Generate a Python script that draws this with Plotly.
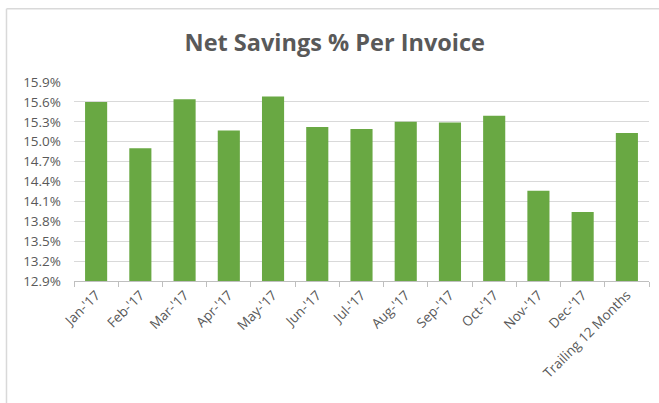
import plotly.graph_objects as go

categories = ["Jan-'17", "Feb-'17", "Mar-'17", "Apr-'17", "May-'17", "Jun-'17",
              "Jul-'17", "Aug-'17", "Sep-'17", "Oct-'17", "Nov-'17", "Dec-'17",
              "Trailing 12 Months"]
net_savings_pct = [15.60, 14.90, 15.64, 15.17, 15.68, 15.22, 15.19, 15.30, 15.29,
                   15.39, 14.26, 13.94, 15.13]
tick_values = [12.9, 13.2, 13.5, 13.8, 14.1, 14.4, 14.7, 15.0, 15.3, 15.6, 15.9]
tick_labels = [f"{v:.1f}%" for v in tick_values]

fig = go.Figure()
fig.add_trace(go.Bar(
    x=categories, y=net_savings_pct,
    marker=dict(color="#69A843", line=dict(width=0)),
    width=0.5,
))

grey = "#595959"
fig.update_layout(
    width=659, height=403,
    margin=dict(l=74, r=10, t=82, b=122),
    paper_bgcolor="white", plot_bgcolor="white",
    showlegend=False,
    title=dict(text="<b>Net Savings % Per Invoice</b>", x=0.508, xanchor="center",
               y=0.895, yanchor="middle",
               font=dict(family="Open Sans", size=23.5, color=grey)),
    font=dict(family="Open Sans", size=12, color=grey),
    xaxis=dict(
        type="category", showgrid=False, showline=True, linecolor="#BFBFBF",
        linewidth=1, ticks="outside", tickson="boundaries", ticklen=5,
        tickcolor="#BFBFBF", tickangle=-45,
        tickfont=dict(family="Open Sans", size=13.5, color=grey),
    ),
    yaxis=dict(
        range=[12.9, 15.9], tickvals=tick_values, ticktext=tick_labels,
        showgrid=True, gridcolor="#D9D9D9", gridwidth=1, zeroline=False,
        showline=False, ticks="", ticklabelstandoff=12,
        tickfont=dict(family="Open Sans", size=13.5, color=grey),
    ),
    bargap=0.5,
    shapes=[
        dict(type="line", xref="paper", yref="paper", x0=-0.1174, x1=1.02,
             y0=1.368, y1=1.368, line=dict(color="#D9D9D9", width=1.5)),
        dict(type="line", xref="paper", yref="paper", x0=-0.1174, x1=-0.1174,
             y0=-0.62, y1=1.368, line=dict(color="#D9D9D9", width=1.5)),
    ],
)

fig.write_html("out.html", config={"displayModeBar": False},
               post_script="document.body.style.margin='0';")
